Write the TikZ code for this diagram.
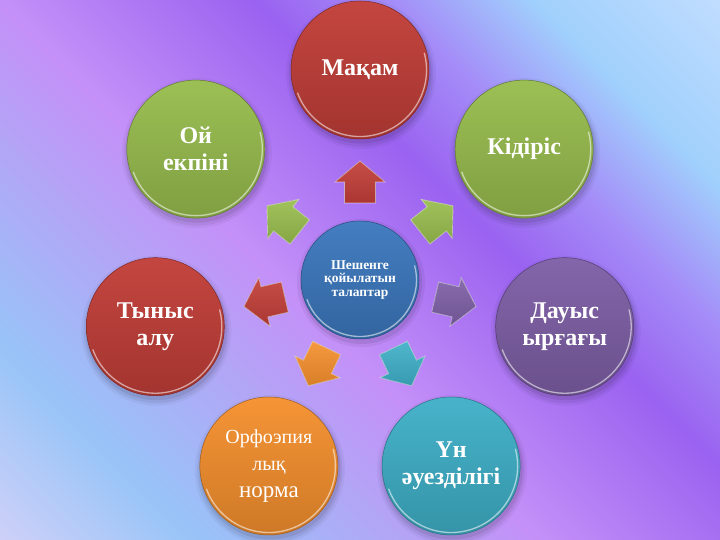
\documentclass[tikz,border=0pt]{standalone}
\usepackage{fontspec}
\setmainfont{Liberation Serif}
\usetikzlibrary{calc}
\definecolor{cRed}{HTML}{C23E38}
\definecolor{cGreen}{HTML}{98BD4E}
\definecolor{cPurple}{HTML}{7E5FA6}
\definecolor{cTeal}{HTML}{3FB0C8}
\definecolor{cOrange}{HTML}{F5902E}
\definecolor{cBlue}{HTML}{3C78BE}
\definecolor{b0}{HTML}{D4D2F8}
\definecolor{b1}{HTML}{98C4F8}
\definecolor{b2}{HTML}{B0A8F6}
\definecolor{b3}{HTML}{C490F8}
\definecolor{b4}{HTML}{9A62F0}
\definecolor{b5}{HTML}{A48CF8}
\definecolor{b6}{HTML}{A0D0FC}
\definecolor{b7}{HTML}{C4DEFF}
\pgfdeclarehorizontalshading{bgsh}{100bp}{color(0bp)=(b0); color(25bp)=(b0); color(33.3bp)=(b1); color(40.5bp)=(b2); color(46.5bp)=(b3); color(56.3bp)=(b4); color(61.5bp)=(b5); color(67bp)=(b6); color(75bp)=(b7); color(100bp)=(b7)}
\newcommand\blockarrow[3]{%
  \filldraw[arr=#3, shift={(#1)}, rotate=#2] (-21,-15.5) -- (0,-15.5) -- (0,-25) -- (21,0) -- (0,25) -- (0,15.5) -- (-21,15.5) -- cycle;}
\newcommand\bubshadow[1]{%
  \fill[black, opacity=0.04] ($(#1)+(1,-4)$) circle (75);
  \fill[black, opacity=0.06] ($(#1)+(1,-4)$) circle (72.5);
  \fill[black, opacity=0.08] ($(#1)+(1,-3)$) circle (70.5);}
\newcommand\bubrim[2]{%
  \draw[white, opacity=0.55, line width=1.3pt] ($(#1.center)+(-160:#2)$) arc[start angle=-160, end angle=15, radius=#2];}
\begin{document}
\begin{tikzpicture}[x=1pt,y=1pt,
  bub/.style={circle, minimum size=138pt, inner sep=0pt, text=white, align=center,
    font=\fontsize{24}{27}\selectfont\bfseries,
    top color=#1!96!white, bottom color=#1!84!black, draw=#1!65!black, line width=0.5pt},
  arr/.style={top color=#1!92!white, bottom color=#1!88!black, draw=white, draw opacity=0.55, line width=0.7pt}
]
\useasboundingbox (0,0) rectangle (720,540);
\begin{scope}
  \clip (0,0) rectangle (720,540);
  \begin{scope}[transform canvas={shift={(360pt,270pt)}, rotate=45}]
    \shade[shading=bgsh] (-460,-460) rectangle (460,460);
  \end{scope}
\end{scope}
% positions
\coordinate (pctr) at (360,260);
\coordinate (pmakam) at (360,470);
\coordinate (pkid) at (524.2,390.9);
\coordinate (pdau) at (564.7,213.3);
\coordinate (pun) at (451.1,74);
\coordinate (porf) at (268.9,74);
\coordinate (ptyn) at (155.3,213.3);
\coordinate (poi) at (195.8,390.9);
% shadows
\foreach \p in {pmakam,pkid,pdau,pun,porf,ptyn,poi}{\bubshadow{\p}}
\fill[black, opacity=0.05] ($(pctr)+(1,-3)$) circle (64);
\fill[black, opacity=0.08] ($(pctr)+(1,-3)$) circle (61);
% bubbles
\node[bub=cRed] (makam) at (pmakam) {Мақам};
\node[bub=cGreen] (kid) at (pkid) {Кідіріс};
\node[bub=cPurple] (dau) at (pdau) {Дауыс\\ырғағы};
\node[bub=cTeal] (un) at (pun) {Үн\\әуезділігі};
\node[bub=cOrange] (orf) at (porf) {\mdseries\fontsize{20}{21}\selectfont Орфоэпия\\\mdseries\fontsize{20}{21}\selectfont лық\\\mdseries\fontsize{23}{23}\selectfont норма};
\node[bub=cRed] (tyn) at (ptyn) {Тыныс\\алу};
\node[bub=cGreen] (oi) at (poi) {Ой\\екпіні};
\node[bub=cBlue, minimum size=118pt, font=\fontsize{13.5}{13.5}\selectfont\bfseries] (ctr) at (pctr) {Шешенге\\қойылатын\\талаптар};
\foreach \n in {makam,kid,dau,un,orf,tyn,oi}{\bubrim{\n}{66.5}}
\bubrim{ctr}{56.5}
% arrows
\path ($(ctr.center)!0.467!(makam.center)$) coordinate (a1)
      ($(ctr.center)!0.467!(kid.center)$) coordinate (a2)
      ($(ctr.center)!0.467!(dau.center)$) coordinate (a3)
      ($(ctr.center)!0.467!(un.center)$) coordinate (a4)
      ($(ctr.center)!0.467!(orf.center)$) coordinate (a5)
      ($(ctr.center)!0.467!(tyn.center)$) coordinate (a6)
      ($(ctr.center)!0.467!(oi.center)$) coordinate (a7);
\blockarrow{a1}{90}{cRed}
\blockarrow{a2}{38.571}{cGreen}
\blockarrow{a3}{-12.857}{cPurple}
\blockarrow{a4}{-64.286}{cTeal}
\blockarrow{a5}{-115.714}{cOrange}
\blockarrow{a6}{-167.143}{cRed}
\blockarrow{a7}{141.429}{cGreen}
\end{tikzpicture}
\end{document}
